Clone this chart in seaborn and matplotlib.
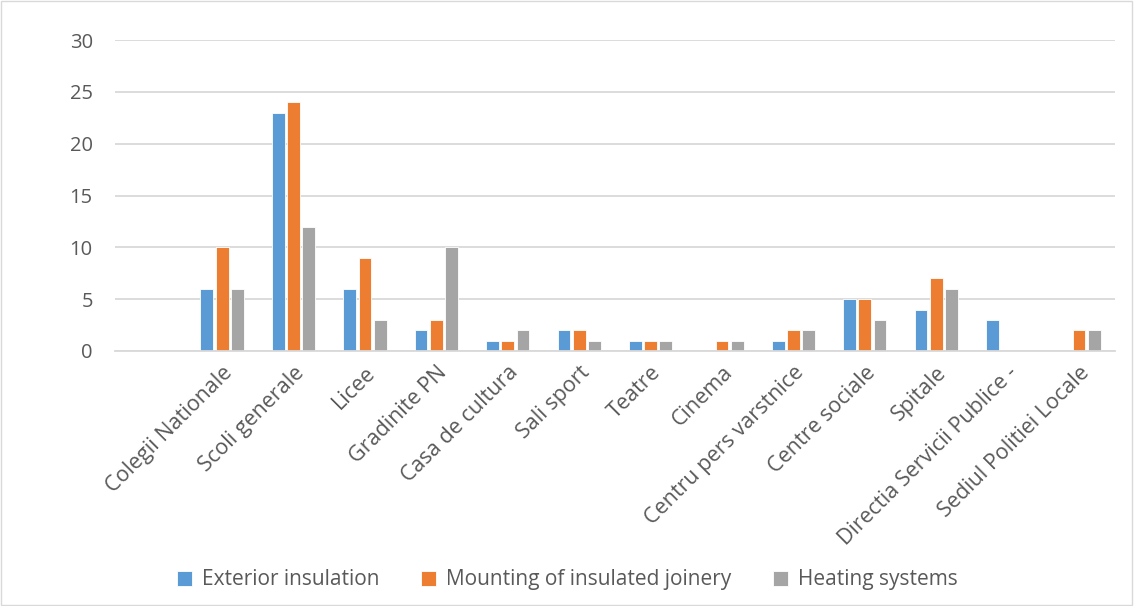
import matplotlib
matplotlib.use("Agg")
import matplotlib.pyplot as plt
import seaborn as sns
import pandas as pd
from matplotlib.patches import Rectangle

categories = ["", "Colegii Nationale", "Scoli generale", "Licee", "Gradinite PN",
              "Casa de cultura", "Sali sport", "Teatre", "Cinema",
              "Centru pers varstnice", "Centre sociale", "Spitale",
              "Directia Servicii Publice -", "Sediul Politiei Locale"]
exterior_insulation = [0, 6, 23, 6, 2, 1, 2, 1, 0, 1, 5, 4, 3, 0]
insulated_joinery = [0, 10, 24, 9, 3, 1, 2, 1, 1, 2, 5, 7, 0, 2]
heating_systems = [0, 6, 12, 3, 10, 2, 1, 1, 1, 2, 3, 6, 0, 2]
series_names = ["Exterior insulation", "Mounting of insulated joinery", "Heating systems"]
y_ticks = [0, 5, 10, 15, 20, 25, 30]

df = pd.DataFrame({
    "category": categories * 3,
    "value": exterior_insulation + insulated_joinery + heating_systems,
    "series": [series_names[0]] * len(categories)
              + [series_names[1]] * len(categories)
              + [series_names[2]] * len(categories),
})

sns.set_theme(style="white")
plt.rcParams["font.family"] = ["Open Sans", "DejaVu Sans"]
text_color = "#595959"

fig = plt.figure(figsize=(11.34, 6.06), dpi=100)
ax = fig.add_axes([0.1014, 0.4208, 0.8816, 0.513])

palette = ["#5B9BD5", "#ED7D31", "#A5A5A5"]
sns.barplot(data=df, x="category", y="value", hue="series", order=categories,
            hue_order=series_names, palette=palette, width=0.64, gap=0.16,
            saturation=1, edgecolor="white", linewidth=0.6, ax=ax, legend=True)

ax.set_ylim(0, 30)
ax.set_xlim(-0.5, len(categories) - 0.5)
ax.set_yticks(y_ticks)
ax.set_yticklabels([str(t) for t in y_ticks], fontsize=14.5, color=text_color)
ax.yaxis.grid(True, color="#D9D9D9", linewidth=1.3)
ax.set_axisbelow(True)
for side in ["top", "right", "left"]:
    ax.spines[side].set_visible(False)
ax.spines["bottom"].set_color("#D9D9D9")
ax.spines["bottom"].set_linewidth(1.3)
ax.tick_params(axis="y", length=0, pad=16)
ax.tick_params(axis="x", length=0, pad=8)
ax.set_xticks(range(len(categories)))
ax.set_xticklabels(categories, rotation=45, ha="right", rotation_mode="anchor",
                   fontsize=15.5, color=text_color)
ax.set_xlabel("")
ax.set_ylabel("")

handles, labels = ax.get_legend_handles_labels()
ax.get_legend().remove()
fig.legend(handles, labels, loc="center", bbox_to_anchor=(0.5, 0.043), ncol=3,
           frameon=False, fontsize=15, labelcolor=text_color, handlelength=0.75,
           handleheight=0.75, handletextpad=0.45, columnspacing=2.0)

fig.patches.append(Rectangle((0.001, 0.002), 0.997, 0.996, transform=fig.transFigure,
                             fill=False, edgecolor="#D9D9D9", linewidth=1))

fig.savefig("out.png", dpi=100, facecolor="white")
